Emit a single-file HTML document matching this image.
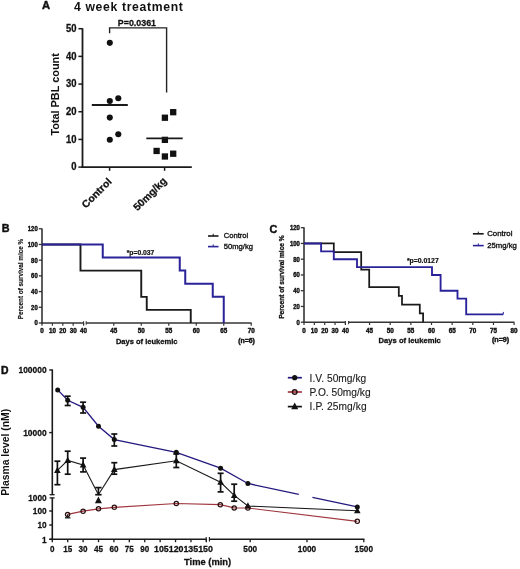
<!DOCTYPE html>
<html><head><meta charset="utf-8"><style>
html,body{margin:0;padding:0;background:#fff;}
svg{display:block;font-family:'Liberation Sans', sans-serif;will-change:transform;}
</style></head><body>
<svg width="520" height="569" viewBox="0 0 520 569">
<rect width="520" height="569" fill="#fff"/>
<text x="42.0" y="9.0" font-size="11.2" font-weight="bold" text-anchor="start" fill="#111" stroke="#111" stroke-width="0.45">A</text>
<text x="74.0" y="11.3" font-size="12.2" font-weight="bold" text-anchor="start" fill="#111" textLength="108.8" lengthAdjust="spacing">4 week treatment</text>
<text x="117.8" y="25.6" font-size="8.8" font-weight="bold" text-anchor="start" fill="#111" textLength="38.2" lengthAdjust="spacingAndGlyphs" stroke="#111" stroke-width="0.26">P=0.0361</text>
<path d="M109.6 33.2 V27.9 H166.6 V92.6" stroke="#222" stroke-width="1.4" fill="none"/>
<line x1="82.5" y1="28.2" x2="82.5" y2="167.9" stroke="#1a1a1a" stroke-width="1.8"/>
<line x1="81.6" y1="167.1" x2="191.8" y2="167.1" stroke="#1a1a1a" stroke-width="1.8"/>
<line x1="78.4" y1="167.1" x2="82.5" y2="167.1" stroke="#1a1a1a" stroke-width="1.5"/>
<text x="76.6" y="170.4" font-size="10.0" font-weight="bold" text-anchor="end" fill="#111" textLength="5.25" lengthAdjust="spacingAndGlyphs" stroke="#111" stroke-width="0.30">0</text>
<line x1="78.4" y1="139.42" x2="82.5" y2="139.42" stroke="#1a1a1a" stroke-width="1.5"/>
<text x="76.6" y="142.72" font-size="10.0" font-weight="bold" text-anchor="end" fill="#111" textLength="10.5" lengthAdjust="spacingAndGlyphs" stroke="#111" stroke-width="0.30">10</text>
<line x1="78.4" y1="111.74" x2="82.5" y2="111.74" stroke="#1a1a1a" stroke-width="1.5"/>
<text x="76.6" y="115.03999999999999" font-size="10.0" font-weight="bold" text-anchor="end" fill="#111" textLength="10.5" lengthAdjust="spacingAndGlyphs" stroke="#111" stroke-width="0.30">20</text>
<line x1="78.4" y1="84.06" x2="82.5" y2="84.06" stroke="#1a1a1a" stroke-width="1.5"/>
<text x="76.6" y="87.36" font-size="10.0" font-weight="bold" text-anchor="end" fill="#111" textLength="10.5" lengthAdjust="spacingAndGlyphs" stroke="#111" stroke-width="0.30">30</text>
<line x1="78.4" y1="56.379999999999995" x2="82.5" y2="56.379999999999995" stroke="#1a1a1a" stroke-width="1.5"/>
<text x="76.6" y="59.67999999999999" font-size="10.0" font-weight="bold" text-anchor="end" fill="#111" textLength="10.5" lengthAdjust="spacingAndGlyphs" stroke="#111" stroke-width="0.30">40</text>
<line x1="78.4" y1="28.700000000000017" x2="82.5" y2="28.700000000000017" stroke="#1a1a1a" stroke-width="1.5"/>
<text x="76.6" y="32.000000000000014" font-size="10.0" font-weight="bold" text-anchor="end" fill="#111" textLength="10.5" lengthAdjust="spacingAndGlyphs" stroke="#111" stroke-width="0.30">50</text>
<line x1="109.6" y1="167" x2="109.6" y2="170.8" stroke="#1a1a1a" stroke-width="1.5"/>
<line x1="164.6" y1="167" x2="164.6" y2="170.8" stroke="#1a1a1a" stroke-width="1.5"/>
<text x="58.8" y="135.6" font-size="10.8" font-weight="bold" text-anchor="start" fill="#111" textLength="82.4" lengthAdjust="spacingAndGlyphs" transform="rotate(-90 58.8 135.6)" stroke="#111" stroke-width="0.05">Total PBL count</text>
<text x="112.3" y="182.2" font-size="10.0" font-weight="bold" text-anchor="end" fill="#111" textLength="37.5" lengthAdjust="spacingAndGlyphs" transform="rotate(-45 112.3 182.2)" stroke="#111" stroke-width="0.30">Control</text>
<text x="167.2" y="181.6" font-size="10.3" font-weight="bold" text-anchor="end" fill="#111" textLength="42" lengthAdjust="spacingAndGlyphs" transform="rotate(-45 167.2 181.6)" stroke="#111" stroke-width="0.30">50mg/kg</text>
<circle cx="109.8" cy="42.84" r="3.05" fill="#111"/>
<circle cx="109.8" cy="100.968" r="3.05" fill="#111"/>
<circle cx="118.3" cy="98.2" r="3.05" fill="#111"/>
<circle cx="109.8" cy="117.576" r="3.05" fill="#111"/>
<circle cx="118.3" cy="134.18400000000003" r="3.05" fill="#111"/>
<circle cx="109.8" cy="139.72" r="3.05" fill="#111"/>
<rect x="161.75" y="114.576" width="6.3" height="6.3" fill="#111"/>
<rect x="170.05" y="109.03999999999999" width="6.3" height="6.3" fill="#111"/>
<rect x="161.75" y="136.71999999999997" width="6.3" height="6.3" fill="#111"/>
<rect x="153.45000000000002" y="147.79199999999997" width="6.3" height="6.3" fill="#111"/>
<rect x="161.75" y="153.32799999999997" width="6.3" height="6.3" fill="#111"/>
<rect x="170.05" y="150.55999999999997" width="6.3" height="6.3" fill="#111"/>
<line x1="91.8" y1="105.02" x2="127.8" y2="105.02" stroke="#1a1a1a" stroke-width="1.8"/>
<line x1="146.3" y1="138.3592" x2="182.7" y2="138.3592" stroke="#1a1a1a" stroke-width="1.8"/>
<text x="1.8" y="232.2" font-size="10.8" font-weight="bold" text-anchor="start" fill="#111" stroke="#111" stroke-width="0.45">B</text>
<line x1="42" y1="228.4" x2="42" y2="323.8" stroke="#353535" stroke-width="1.6"/>
<line x1="41.2" y1="323" x2="83.6" y2="323" stroke="#353535" stroke-width="1.6"/>
<line x1="86.2" y1="323" x2="251.6" y2="323" stroke="#353535" stroke-width="1.6"/>
<line x1="83.6" y1="321.2" x2="83.6" y2="324.8" stroke="#353535" stroke-width="1.1"/>
<line x1="86.2" y1="321.2" x2="86.2" y2="324.8" stroke="#353535" stroke-width="1.1"/>
<line x1="38.8" y1="323.0" x2="42" y2="323.0" stroke="#353535" stroke-width="1.3"/>
<text x="37.7" y="325.4" font-size="6.6" font-weight="bold" text-anchor="end" fill="#111" textLength="3.3" lengthAdjust="spacingAndGlyphs" stroke="#111" stroke-width="0.40">0</text>
<line x1="38.8" y1="307.292" x2="42" y2="307.292" stroke="#353535" stroke-width="1.3"/>
<text x="37.7" y="309.69199999999995" font-size="6.6" font-weight="bold" text-anchor="end" fill="#111" textLength="6.6" lengthAdjust="spacingAndGlyphs" stroke="#111" stroke-width="0.40">20</text>
<line x1="38.8" y1="291.584" x2="42" y2="291.584" stroke="#353535" stroke-width="1.3"/>
<text x="37.7" y="293.984" font-size="6.6" font-weight="bold" text-anchor="end" fill="#111" textLength="6.6" lengthAdjust="spacingAndGlyphs" stroke="#111" stroke-width="0.40">40</text>
<line x1="38.8" y1="275.876" x2="42" y2="275.876" stroke="#353535" stroke-width="1.3"/>
<text x="37.7" y="278.27599999999995" font-size="6.6" font-weight="bold" text-anchor="end" fill="#111" textLength="6.6" lengthAdjust="spacingAndGlyphs" stroke="#111" stroke-width="0.40">60</text>
<line x1="38.8" y1="260.168" x2="42" y2="260.168" stroke="#353535" stroke-width="1.3"/>
<text x="37.7" y="262.568" font-size="6.6" font-weight="bold" text-anchor="end" fill="#111" textLength="6.6" lengthAdjust="spacingAndGlyphs" stroke="#111" stroke-width="0.40">80</text>
<line x1="38.8" y1="244.46" x2="42" y2="244.46" stroke="#353535" stroke-width="1.3"/>
<text x="37.7" y="246.86" font-size="6.6" font-weight="bold" text-anchor="end" fill="#111" textLength="9.899999999999999" lengthAdjust="spacingAndGlyphs" stroke="#111" stroke-width="0.40">100</text>
<line x1="38.8" y1="228.752" x2="42" y2="228.752" stroke="#353535" stroke-width="1.3"/>
<text x="37.7" y="231.15200000000002" font-size="6.6" font-weight="bold" text-anchor="end" fill="#111" textLength="9.899999999999999" lengthAdjust="spacingAndGlyphs" stroke="#111" stroke-width="0.40">120</text>
<line x1="42.0" y1="323" x2="42.0" y2="325.8" stroke="#353535" stroke-width="1.2"/>
<text x="42.0" y="333.2" font-size="6.6" font-weight="bold" text-anchor="middle" fill="#111" textLength="3.5" lengthAdjust="spacingAndGlyphs" stroke="#111" stroke-width="0.40">0</text>
<line x1="52.4" y1="323" x2="52.4" y2="325.8" stroke="#353535" stroke-width="1.2"/>
<text x="52.4" y="333.2" font-size="6.6" font-weight="bold" text-anchor="middle" fill="#111" textLength="7.0" lengthAdjust="spacingAndGlyphs" stroke="#111" stroke-width="0.40">10</text>
<line x1="62.8" y1="323" x2="62.8" y2="325.8" stroke="#353535" stroke-width="1.2"/>
<text x="62.8" y="333.2" font-size="6.6" font-weight="bold" text-anchor="middle" fill="#111" textLength="7.0" lengthAdjust="spacingAndGlyphs" stroke="#111" stroke-width="0.40">20</text>
<line x1="73.2" y1="323" x2="73.2" y2="325.8" stroke="#353535" stroke-width="1.2"/>
<text x="73.2" y="333.2" font-size="6.6" font-weight="bold" text-anchor="middle" fill="#111" textLength="7.0" lengthAdjust="spacingAndGlyphs" stroke="#111" stroke-width="0.40">30</text>
<line x1="83.6" y1="323" x2="83.6" y2="325.8" stroke="#353535" stroke-width="1.2"/>
<text x="83.6" y="333.2" font-size="6.6" font-weight="bold" text-anchor="middle" fill="#111" textLength="7.0" lengthAdjust="spacingAndGlyphs" stroke="#111" stroke-width="0.40">40</text>
<line x1="113.75" y1="323" x2="113.75" y2="325.8" stroke="#353535" stroke-width="1.2"/>
<text x="113.75" y="333.2" font-size="6.6" font-weight="bold" text-anchor="middle" fill="#111" textLength="7.0" lengthAdjust="spacingAndGlyphs" stroke="#111" stroke-width="0.40">45</text>
<line x1="141.25" y1="323" x2="141.25" y2="325.8" stroke="#353535" stroke-width="1.2"/>
<text x="141.25" y="333.2" font-size="6.6" font-weight="bold" text-anchor="middle" fill="#111" textLength="7.0" lengthAdjust="spacingAndGlyphs" stroke="#111" stroke-width="0.40">50</text>
<line x1="168.75" y1="323" x2="168.75" y2="325.8" stroke="#353535" stroke-width="1.2"/>
<text x="168.75" y="333.2" font-size="6.6" font-weight="bold" text-anchor="middle" fill="#111" textLength="7.0" lengthAdjust="spacingAndGlyphs" stroke="#111" stroke-width="0.40">55</text>
<line x1="196.25" y1="323" x2="196.25" y2="325.8" stroke="#353535" stroke-width="1.2"/>
<text x="196.25" y="333.2" font-size="6.6" font-weight="bold" text-anchor="middle" fill="#111" textLength="7.0" lengthAdjust="spacingAndGlyphs" stroke="#111" stroke-width="0.40">60</text>
<line x1="223.75" y1="323" x2="223.75" y2="325.8" stroke="#353535" stroke-width="1.2"/>
<text x="223.75" y="333.2" font-size="6.6" font-weight="bold" text-anchor="middle" fill="#111" textLength="7.0" lengthAdjust="spacingAndGlyphs" stroke="#111" stroke-width="0.40">65</text>
<line x1="251.25" y1="323" x2="251.25" y2="325.8" stroke="#353535" stroke-width="1.2"/>
<text x="251.25" y="333.2" font-size="6.6" font-weight="bold" text-anchor="middle" fill="#111" textLength="7.0" lengthAdjust="spacingAndGlyphs" stroke="#111" stroke-width="0.40">70</text>
<text x="115.9" y="343.8" font-size="8.0" font-weight="bold" text-anchor="start" fill="#111" textLength="61.6" lengthAdjust="spacingAndGlyphs" stroke="#111" stroke-width="0.30">Days of leukemic</text>
<text x="238.2" y="342.6" font-size="6.6" font-weight="bold" text-anchor="start" fill="#111" textLength="16.6" lengthAdjust="spacingAndGlyphs" stroke="#111" stroke-width="0.40">(n=6)</text>
<text x="22.8" y="319.3" font-size="6.4" font-weight="bold" text-anchor="start" fill="#111" textLength="80.5" lengthAdjust="spacingAndGlyphs" transform="rotate(-90 22.8 319.3)" stroke="#111" stroke-width="0.15">Percent of survival mice %</text>
<text x="126.7" y="255.0" font-size="6.3" font-weight="bold" text-anchor="start" fill="#111" textLength="27.6" lengthAdjust="spacingAndGlyphs" stroke="#111" stroke-width="0.20">*p=0.037</text>
<path d="M42.0 244.46 H80.48 V270.61 H141.25 V296.85 H146.75 V309.88 H190.75 V323.00" stroke="#1a1a1a" stroke-width="1.9" fill="none"/>
<path d="M42.0 244.46 H102.75 V257.58 H179.75 V270.61 H185.25 V283.73 H212.75 V296.85 H223.75 V323.00" stroke="#2a2298" stroke-width="2.0" fill="none"/>
<line x1="208" y1="236" x2="218.5" y2="236" stroke="#1a1a1a" stroke-width="1.6"/>
<line x1="213.2" y1="233.8" x2="213.2" y2="236" stroke="#1a1a1a" stroke-width="1.0"/>
<text x="223.8" y="238.4" font-size="7.7" font-weight="normal" text-anchor="start" fill="#111" textLength="24.5" lengthAdjust="spacingAndGlyphs" stroke="#111" stroke-width="0.35">Control</text>
<line x1="208" y1="246.6" x2="218.5" y2="246.6" stroke="#2a2298" stroke-width="1.6"/>
<line x1="213.2" y1="244.4" x2="213.2" y2="246.6" stroke="#2a2298" stroke-width="1.0"/>
<text x="223.8" y="248.8" font-size="7.7" font-weight="normal" text-anchor="start" fill="#111" textLength="29.2" lengthAdjust="spacingAndGlyphs" stroke="#111" stroke-width="0.35">50mg/kg</text>
<text x="269.4" y="232.6" font-size="10.8" font-weight="bold" text-anchor="start" fill="#111" stroke="#111" stroke-width="0.45">C</text>
<line x1="304" y1="227.3" x2="304" y2="323" stroke="#353535" stroke-width="1.6"/>
<line x1="303.2" y1="322.2" x2="345.4" y2="322.2" stroke="#353535" stroke-width="1.6"/>
<line x1="348.6" y1="322.2" x2="514.3" y2="322.2" stroke="#353535" stroke-width="1.6"/>
<line x1="345.4" y1="321.0" x2="345.4" y2="324.2" stroke="#353535" stroke-width="1.1"/>
<line x1="348.6" y1="321.0" x2="348.6" y2="324.2" stroke="#353535" stroke-width="1.1"/>
<line x1="300.8" y1="322.2" x2="304" y2="322.2" stroke="#353535" stroke-width="1.3"/>
<text x="299.8" y="324.59999999999997" font-size="6.6" font-weight="bold" text-anchor="end" fill="#111" textLength="3.3" lengthAdjust="spacingAndGlyphs" stroke="#111" stroke-width="0.40">0</text>
<line x1="300.8" y1="306.45" x2="304" y2="306.45" stroke="#353535" stroke-width="1.3"/>
<text x="299.8" y="308.84999999999997" font-size="6.6" font-weight="bold" text-anchor="end" fill="#111" textLength="6.6" lengthAdjust="spacingAndGlyphs" stroke="#111" stroke-width="0.40">20</text>
<line x1="300.8" y1="290.7" x2="304" y2="290.7" stroke="#353535" stroke-width="1.3"/>
<text x="299.8" y="293.09999999999997" font-size="6.6" font-weight="bold" text-anchor="end" fill="#111" textLength="6.6" lengthAdjust="spacingAndGlyphs" stroke="#111" stroke-width="0.40">40</text>
<line x1="300.8" y1="274.95" x2="304" y2="274.95" stroke="#353535" stroke-width="1.3"/>
<text x="299.8" y="277.34999999999997" font-size="6.6" font-weight="bold" text-anchor="end" fill="#111" textLength="6.6" lengthAdjust="spacingAndGlyphs" stroke="#111" stroke-width="0.40">60</text>
<line x1="300.8" y1="259.2" x2="304" y2="259.2" stroke="#353535" stroke-width="1.3"/>
<text x="299.8" y="261.59999999999997" font-size="6.6" font-weight="bold" text-anchor="end" fill="#111" textLength="6.6" lengthAdjust="spacingAndGlyphs" stroke="#111" stroke-width="0.40">80</text>
<line x1="300.8" y1="243.45" x2="304" y2="243.45" stroke="#353535" stroke-width="1.3"/>
<text x="299.8" y="245.85" font-size="6.6" font-weight="bold" text-anchor="end" fill="#111" textLength="9.899999999999999" lengthAdjust="spacingAndGlyphs" stroke="#111" stroke-width="0.40">100</text>
<line x1="300.8" y1="227.7" x2="304" y2="227.7" stroke="#353535" stroke-width="1.3"/>
<text x="299.8" y="230.1" font-size="6.6" font-weight="bold" text-anchor="end" fill="#111" textLength="9.899999999999999" lengthAdjust="spacingAndGlyphs" stroke="#111" stroke-width="0.40">120</text>
<line x1="304.0" y1="322.2" x2="304.0" y2="325" stroke="#353535" stroke-width="1.2"/>
<text x="304.0" y="332.7" font-size="6.6" font-weight="bold" text-anchor="middle" fill="#111" textLength="3.5" lengthAdjust="spacingAndGlyphs" stroke="#111" stroke-width="0.40">0</text>
<line x1="314.35" y1="322.2" x2="314.35" y2="325" stroke="#353535" stroke-width="1.2"/>
<text x="314.35" y="332.7" font-size="6.6" font-weight="bold" text-anchor="middle" fill="#111" textLength="7.0" lengthAdjust="spacingAndGlyphs" stroke="#111" stroke-width="0.40">10</text>
<line x1="324.7" y1="322.2" x2="324.7" y2="325" stroke="#353535" stroke-width="1.2"/>
<text x="324.7" y="332.7" font-size="6.6" font-weight="bold" text-anchor="middle" fill="#111" textLength="7.0" lengthAdjust="spacingAndGlyphs" stroke="#111" stroke-width="0.40">20</text>
<line x1="335.05" y1="322.2" x2="335.05" y2="325" stroke="#353535" stroke-width="1.2"/>
<text x="335.05" y="332.7" font-size="6.6" font-weight="bold" text-anchor="middle" fill="#111" textLength="7.0" lengthAdjust="spacingAndGlyphs" stroke="#111" stroke-width="0.40">30</text>
<line x1="345.4" y1="322.2" x2="345.4" y2="325" stroke="#353535" stroke-width="1.2"/>
<text x="345.4" y="332.7" font-size="6.6" font-weight="bold" text-anchor="middle" fill="#111" textLength="7.0" lengthAdjust="spacingAndGlyphs" stroke="#111" stroke-width="0.40">40</text>
<line x1="369.55" y1="322.2" x2="369.55" y2="325" stroke="#353535" stroke-width="1.2"/>
<text x="369.55" y="332.7" font-size="6.6" font-weight="bold" text-anchor="middle" fill="#111" textLength="7.0" lengthAdjust="spacingAndGlyphs" stroke="#111" stroke-width="0.40">45</text>
<line x1="390.2" y1="322.2" x2="390.2" y2="325" stroke="#353535" stroke-width="1.2"/>
<text x="390.2" y="332.7" font-size="6.6" font-weight="bold" text-anchor="middle" fill="#111" textLength="7.0" lengthAdjust="spacingAndGlyphs" stroke="#111" stroke-width="0.40">50</text>
<line x1="410.84999999999997" y1="322.2" x2="410.84999999999997" y2="325" stroke="#353535" stroke-width="1.2"/>
<text x="410.84999999999997" y="332.7" font-size="6.6" font-weight="bold" text-anchor="middle" fill="#111" textLength="7.0" lengthAdjust="spacingAndGlyphs" stroke="#111" stroke-width="0.40">55</text>
<line x1="431.5" y1="322.2" x2="431.5" y2="325" stroke="#353535" stroke-width="1.2"/>
<text x="431.5" y="332.7" font-size="6.6" font-weight="bold" text-anchor="middle" fill="#111" textLength="7.0" lengthAdjust="spacingAndGlyphs" stroke="#111" stroke-width="0.40">60</text>
<line x1="452.15" y1="322.2" x2="452.15" y2="325" stroke="#353535" stroke-width="1.2"/>
<text x="452.15" y="332.7" font-size="6.6" font-weight="bold" text-anchor="middle" fill="#111" textLength="7.0" lengthAdjust="spacingAndGlyphs" stroke="#111" stroke-width="0.40">65</text>
<line x1="472.79999999999995" y1="322.2" x2="472.79999999999995" y2="325" stroke="#353535" stroke-width="1.2"/>
<text x="472.79999999999995" y="332.7" font-size="6.6" font-weight="bold" text-anchor="middle" fill="#111" textLength="7.0" lengthAdjust="spacingAndGlyphs" stroke="#111" stroke-width="0.40">70</text>
<line x1="493.45" y1="322.2" x2="493.45" y2="325" stroke="#353535" stroke-width="1.2"/>
<text x="493.45" y="332.7" font-size="6.6" font-weight="bold" text-anchor="middle" fill="#111" textLength="7.0" lengthAdjust="spacingAndGlyphs" stroke="#111" stroke-width="0.40">75</text>
<line x1="514.1" y1="322.2" x2="514.1" y2="325" stroke="#353535" stroke-width="1.2"/>
<text x="514.1" y="332.7" font-size="6.6" font-weight="bold" text-anchor="middle" fill="#111" textLength="7.0" lengthAdjust="spacingAndGlyphs" stroke="#111" stroke-width="0.40">80</text>
<text x="378.6" y="343.3" font-size="8.0" font-weight="bold" text-anchor="start" fill="#111" textLength="62.2" lengthAdjust="spacingAndGlyphs" stroke="#111" stroke-width="0.30">Days of leukemic</text>
<text x="492.0" y="341.8" font-size="6.6" font-weight="bold" text-anchor="start" fill="#111" textLength="17.2" lengthAdjust="spacingAndGlyphs" stroke="#111" stroke-width="0.40">(n=9)</text>
<text x="284.0" y="318.8" font-size="6.5" font-weight="bold" text-anchor="start" fill="#111" textLength="83.5" lengthAdjust="spacingAndGlyphs" transform="rotate(-90 284.0 318.8)" stroke="#111" stroke-width="0.30">Percent of survival mice %</text>
<text x="406.9" y="262.8" font-size="6.3" font-weight="bold" text-anchor="start" fill="#111" textLength="31.8" lengthAdjust="spacingAndGlyphs" stroke="#111" stroke-width="0.20">*p=0.0127</text>
<path d="M304 243.45 H333.80 V252.19 H361.20 V269.67 H369.20 V287.24 H398.80 V295.98 H402.00 V304.72 H419.80 V313.46 H423.10 V322.20" stroke="#1a1a1a" stroke-width="1.75" fill="none"/>
<path d="M304 243.45 H321.10 V251.32 H333.80 V259.20 H357.00 V267.07 H432.00 V274.95 H440.60 V290.70 H457.50 V298.57 H466.20 V314.32 H503.3" stroke="#2a2298" stroke-width="1.85" fill="none"/>
<line x1="503.3" y1="311.925" x2="503.3" y2="314.325" stroke="#2a2298" stroke-width="1.0"/>
<line x1="472.9" y1="233.8" x2="483.7" y2="233.8" stroke="#1a1a1a" stroke-width="1.6"/>
<line x1="478.3" y1="231.6" x2="478.3" y2="233.8" stroke="#1a1a1a" stroke-width="1.0"/>
<text x="487.2" y="236.3" font-size="7.7" font-weight="normal" text-anchor="start" fill="#111" textLength="25.3" lengthAdjust="spacingAndGlyphs" stroke="#111" stroke-width="0.35">Control</text>
<line x1="472.9" y1="245.6" x2="483.7" y2="245.6" stroke="#2a2298" stroke-width="1.6"/>
<line x1="478.3" y1="243.4" x2="478.3" y2="245.6" stroke="#2a2298" stroke-width="1.0"/>
<text x="487.2" y="248.1" font-size="7.7" font-weight="normal" text-anchor="start" fill="#111" textLength="29.6" lengthAdjust="spacingAndGlyphs" stroke="#111" stroke-width="0.35">25mg/kg</text>
<text x="1.0" y="373.9" font-size="10.4" font-weight="bold" text-anchor="start" fill="#111" stroke="#111" stroke-width="0.45">D</text>
<line x1="52.3" y1="369.4" x2="52.3" y2="494.7" stroke="#1a1a1a" stroke-width="1.6"/>
<line x1="52.3" y1="497.9" x2="52.3" y2="540.2" stroke="#1a1a1a" stroke-width="1.6"/>
<line x1="49.6" y1="494.7" x2="54.6" y2="494.7" stroke="#1a1a1a" stroke-width="1.3"/>
<line x1="49.6" y1="497.9" x2="54.6" y2="497.9" stroke="#1a1a1a" stroke-width="1.3"/>
<line x1="49.6" y1="539.3" x2="206.2" y2="539.3" stroke="#1a1a1a" stroke-width="1.6"/>
<line x1="209.4" y1="539.3" x2="364.4" y2="539.3" stroke="#1a1a1a" stroke-width="1.6"/>
<line x1="206.2" y1="537" x2="206.2" y2="541.6" stroke="#1a1a1a" stroke-width="1.1"/>
<line x1="209.4" y1="537" x2="209.4" y2="541.6" stroke="#1a1a1a" stroke-width="1.1"/>
<line x1="49.2" y1="370" x2="52.3" y2="370" stroke="#1a1a1a" stroke-width="1.4"/>
<text x="46.6" y="373.2" font-size="9.0" font-weight="bold" text-anchor="end" fill="#111" textLength="28.08" lengthAdjust="spacingAndGlyphs" stroke="#111" stroke-width="0.27">100000</text>
<line x1="49.2" y1="432.6" x2="52.3" y2="432.6" stroke="#1a1a1a" stroke-width="1.4"/>
<text x="46.6" y="435.8" font-size="9.0" font-weight="bold" text-anchor="end" fill="#111" textLength="23.4" lengthAdjust="spacingAndGlyphs" stroke="#111" stroke-width="0.27">10000</text>
<text x="46.6" y="501.09999999999997" font-size="9.0" font-weight="bold" text-anchor="end" fill="#111" textLength="18.4" lengthAdjust="spacingAndGlyphs" stroke="#111" stroke-width="0.27">1000</text>
<line x1="49.2" y1="511.0" x2="52.3" y2="511.0" stroke="#1a1a1a" stroke-width="1.4"/>
<text x="46.6" y="514.2" font-size="9.0" font-weight="bold" text-anchor="end" fill="#111" textLength="13.799999999999999" lengthAdjust="spacingAndGlyphs" stroke="#111" stroke-width="0.27">100</text>
<line x1="49.2" y1="525.0" x2="52.3" y2="525.0" stroke="#1a1a1a" stroke-width="1.4"/>
<text x="46.6" y="528.2" font-size="9.0" font-weight="bold" text-anchor="end" fill="#111" textLength="9.2" lengthAdjust="spacingAndGlyphs" stroke="#111" stroke-width="0.27">10</text>
<line x1="49.2" y1="539.3" x2="52.3" y2="539.3" stroke="#1a1a1a" stroke-width="1.4"/>
<text x="46.6" y="542.5" font-size="9.0" font-weight="bold" text-anchor="end" fill="#111" textLength="4.6" lengthAdjust="spacingAndGlyphs" stroke="#111" stroke-width="0.27">1</text>
<line x1="52.3" y1="539.3" x2="52.3" y2="542.2" stroke="#1a1a1a" stroke-width="1.3"/>
<line x1="67.705" y1="539.3" x2="67.705" y2="542.2" stroke="#1a1a1a" stroke-width="1.3"/>
<line x1="83.11" y1="539.3" x2="83.11" y2="542.2" stroke="#1a1a1a" stroke-width="1.3"/>
<line x1="98.51499999999999" y1="539.3" x2="98.51499999999999" y2="542.2" stroke="#1a1a1a" stroke-width="1.3"/>
<line x1="113.91999999999999" y1="539.3" x2="113.91999999999999" y2="542.2" stroke="#1a1a1a" stroke-width="1.3"/>
<line x1="129.325" y1="539.3" x2="129.325" y2="542.2" stroke="#1a1a1a" stroke-width="1.3"/>
<line x1="144.73" y1="539.3" x2="144.73" y2="542.2" stroke="#1a1a1a" stroke-width="1.3"/>
<line x1="160.135" y1="539.3" x2="160.135" y2="542.2" stroke="#1a1a1a" stroke-width="1.3"/>
<line x1="175.54" y1="539.3" x2="175.54" y2="542.2" stroke="#1a1a1a" stroke-width="1.3"/>
<line x1="190.945" y1="539.3" x2="190.945" y2="542.2" stroke="#1a1a1a" stroke-width="1.3"/>
<line x1="206.34999999999997" y1="539.3" x2="206.34999999999997" y2="542.2" stroke="#1a1a1a" stroke-width="1.3"/>
<text x="52.3" y="552.2" font-size="8.5" font-weight="bold" text-anchor="middle" fill="#111" textLength="4.5" lengthAdjust="spacingAndGlyphs" stroke="#111" stroke-width="0.26">0</text>
<text x="67.705" y="552.2" font-size="8.5" font-weight="bold" text-anchor="middle" fill="#111" textLength="9.0" lengthAdjust="spacingAndGlyphs" stroke="#111" stroke-width="0.26">15</text>
<text x="83.11" y="552.2" font-size="8.5" font-weight="bold" text-anchor="middle" fill="#111" textLength="9.0" lengthAdjust="spacingAndGlyphs" stroke="#111" stroke-width="0.26">30</text>
<text x="98.51499999999999" y="552.2" font-size="8.5" font-weight="bold" text-anchor="middle" fill="#111" textLength="9.0" lengthAdjust="spacingAndGlyphs" stroke="#111" stroke-width="0.26">45</text>
<text x="113.91999999999999" y="552.2" font-size="8.5" font-weight="bold" text-anchor="middle" fill="#111" textLength="9.0" lengthAdjust="spacingAndGlyphs" stroke="#111" stroke-width="0.26">60</text>
<text x="129.325" y="552.2" font-size="8.5" font-weight="bold" text-anchor="middle" fill="#111" textLength="9.0" lengthAdjust="spacingAndGlyphs" stroke="#111" stroke-width="0.26">75</text>
<text x="144.73" y="552.2" font-size="8.5" font-weight="bold" text-anchor="middle" fill="#111" textLength="9.0" lengthAdjust="spacingAndGlyphs" stroke="#111" stroke-width="0.26">90</text>
<text x="154.0" y="552.2" font-size="8.5" font-weight="bold" text-anchor="start" fill="#111" textLength="58.9" lengthAdjust="spacingAndGlyphs" stroke="#111" stroke-width="0.26">105120135150</text>
<line x1="250.2" y1="539.3" x2="250.2" y2="542.2" stroke="#1a1a1a" stroke-width="1.3"/>
<text x="250.2" y="552.2" font-size="8.5" font-weight="bold" text-anchor="middle" fill="#111" textLength="13.799999999999999" lengthAdjust="spacingAndGlyphs" stroke="#111" stroke-width="0.26">500</text>
<line x1="307.0" y1="539.3" x2="307.0" y2="542.2" stroke="#1a1a1a" stroke-width="1.3"/>
<text x="307.0" y="552.2" font-size="8.5" font-weight="bold" text-anchor="middle" fill="#111" textLength="18.4" lengthAdjust="spacingAndGlyphs" stroke="#111" stroke-width="0.26">1000</text>
<line x1="363.8" y1="539.3" x2="363.8" y2="542.2" stroke="#1a1a1a" stroke-width="1.3"/>
<text x="363.8" y="552.2" font-size="8.5" font-weight="bold" text-anchor="middle" fill="#111" textLength="18.4" lengthAdjust="spacingAndGlyphs" stroke="#111" stroke-width="0.26">1500</text>
<text x="184" y="565.3" font-size="8.7" font-weight="bold" text-anchor="start" fill="#111" textLength="47.2" lengthAdjust="spacingAndGlyphs" stroke="#111" stroke-width="0.26">Time (min)</text>
<text x="9.2" y="495.8" font-size="10.2" font-weight="bold" text-anchor="start" fill="#111" textLength="87" lengthAdjust="spacingAndGlyphs" transform="rotate(-90 9.2 495.8)">Plasma level (nM)</text>
<path d="M67.6 514.4 L83.1 511.2 L98.5 508.8 L114.3 507.3 L176.3 503.5 L220.3 504.7 L234.2 507.9 L247.9 508 L357.3 521.3" stroke="#a0363f" stroke-width="1.2" fill="none"/>
<path d="M57.4 470.4 L67.7 460.4 L83.1 465 L98.4 494.7 L114.3 469.6 L176.3 460.8 L220.6 482.3 L234.2 495.4 L247.9 506 L357.3 510.8" stroke="#1a1a1a" stroke-width="1.1" fill="none"/>
<path d="M57.7 389.9 L67.7 400.3 L83.1 407.3 L98.5 426.2 L114.3 439.6 L176.3 452.3 L220.6 468.2 L247.9 483.5 L298.8 494.4" stroke="#24197f" stroke-width="1.3" fill="none"/>
<path d="M312.4 497.3 L357.3 506.9" stroke="#24197f" stroke-width="1.3" fill="none"/>
<line x1="57.4" y1="461.2" x2="57.4" y2="484.7" stroke="#111" stroke-width="1.7"/>
<line x1="54.4" y1="461.2" x2="60.4" y2="461.2" stroke="#111" stroke-width="1.7"/>
<line x1="54.4" y1="484.7" x2="60.4" y2="484.7" stroke="#111" stroke-width="1.7"/>
<line x1="67.7" y1="451.2" x2="67.7" y2="474.2" stroke="#111" stroke-width="1.7"/>
<line x1="64.7" y1="451.2" x2="70.7" y2="451.2" stroke="#111" stroke-width="1.7"/>
<line x1="64.7" y1="474.2" x2="70.7" y2="474.2" stroke="#111" stroke-width="1.7"/>
<line x1="83.1" y1="458.1" x2="83.1" y2="471.9" stroke="#111" stroke-width="1.7"/>
<line x1="80.1" y1="458.1" x2="86.1" y2="458.1" stroke="#111" stroke-width="1.7"/>
<line x1="80.1" y1="471.9" x2="86.1" y2="471.9" stroke="#111" stroke-width="1.7"/>
<line x1="114.3" y1="462.7" x2="114.3" y2="474.2" stroke="#111" stroke-width="1.7"/>
<line x1="111.3" y1="462.7" x2="117.3" y2="462.7" stroke="#111" stroke-width="1.7"/>
<line x1="111.3" y1="474.2" x2="117.3" y2="474.2" stroke="#111" stroke-width="1.7"/>
<line x1="176.3" y1="454" x2="176.3" y2="467.5" stroke="#111" stroke-width="1.7"/>
<line x1="173.3" y1="454" x2="179.3" y2="454" stroke="#111" stroke-width="1.7"/>
<line x1="173.3" y1="467.5" x2="179.3" y2="467.5" stroke="#111" stroke-width="1.7"/>
<line x1="220.6" y1="473.3" x2="220.6" y2="491.9" stroke="#111" stroke-width="1.7"/>
<line x1="217.6" y1="473.3" x2="223.6" y2="473.3" stroke="#111" stroke-width="1.7"/>
<line x1="217.6" y1="491.9" x2="223.6" y2="491.9" stroke="#111" stroke-width="1.7"/>
<line x1="234.2" y1="484.2" x2="234.2" y2="501.2" stroke="#111" stroke-width="1.7"/>
<line x1="231.2" y1="484.2" x2="237.2" y2="484.2" stroke="#111" stroke-width="1.7"/>
<line x1="231.2" y1="501.2" x2="237.2" y2="501.2" stroke="#111" stroke-width="1.7"/>
<line x1="98.4" y1="487.6" x2="98.4" y2="494.7" stroke="#111" stroke-width="1.7"/>
<line x1="95.2" y1="487.6" x2="101.60000000000001" y2="487.6" stroke="#111" stroke-width="1.7"/>
<line x1="95.2" y1="494.7" x2="101.60000000000001" y2="494.7" stroke="#111" stroke-width="1.7"/>
<line x1="67.7" y1="396.2" x2="67.7" y2="405.5" stroke="#111" stroke-width="1.7"/>
<line x1="64.7" y1="396.2" x2="70.7" y2="396.2" stroke="#111" stroke-width="1.7"/>
<line x1="64.7" y1="405.5" x2="70.7" y2="405.5" stroke="#111" stroke-width="1.7"/>
<line x1="83.1" y1="402.2" x2="83.1" y2="413" stroke="#111" stroke-width="1.7"/>
<line x1="80.1" y1="402.2" x2="86.1" y2="402.2" stroke="#111" stroke-width="1.7"/>
<line x1="80.1" y1="413" x2="86.1" y2="413" stroke="#111" stroke-width="1.7"/>
<line x1="114.3" y1="434" x2="114.3" y2="446" stroke="#111" stroke-width="1.7"/>
<line x1="111.3" y1="434" x2="117.3" y2="434" stroke="#111" stroke-width="1.7"/>
<line x1="111.3" y1="446" x2="117.3" y2="446" stroke="#111" stroke-width="1.7"/>
<line x1="67.6" y1="514.4" x2="67.6" y2="517.8" stroke="#111" stroke-width="1.3"/>
<line x1="65" y1="517.8" x2="70.4" y2="517.8" stroke="#111" stroke-width="1.3"/>
<path d="M57.4 466.638 L60.699999999999996 472.90799999999996 L54.1 472.90799999999996 Z" fill="#111"/>
<path d="M67.7 456.638 L71.0 462.90799999999996 L64.4 462.90799999999996 Z" fill="#111"/>
<path d="M83.1 461.238 L86.39999999999999 467.508 L79.8 467.508 Z" fill="#111"/>
<path d="M114.3 465.838 L117.6 472.108 L111.0 472.108 Z" fill="#111"/>
<path d="M176.3 457.038 L179.60000000000002 463.308 L173.0 463.308 Z" fill="#111"/>
<path d="M220.6 478.538 L223.9 484.808 L217.29999999999998 484.808 Z" fill="#111"/>
<path d="M234.2 491.638 L237.5 497.90799999999996 L230.89999999999998 497.90799999999996 Z" fill="#111"/>
<path d="M247.9 502.238 L251.20000000000002 508.508 L244.6 508.508 Z" fill="#111"/>
<path d="M357.3 507.038 L360.6 513.308 L354.0 513.308 Z" fill="#111"/>
<path d="M98.4 496.61 L101.9 503.26000000000005 L94.9 503.26000000000005 Z" fill="#111"/>
<circle cx="57.7" cy="389.9" r="2.5" fill="#111"/>
<circle cx="67.7" cy="400.3" r="2.5" fill="#111"/>
<circle cx="83.1" cy="407.3" r="2.5" fill="#111"/>
<circle cx="98.5" cy="426.2" r="2.5" fill="#111"/>
<circle cx="114.3" cy="439.6" r="2.5" fill="#111"/>
<circle cx="176.3" cy="452.3" r="2.5" fill="#111"/>
<circle cx="220.6" cy="468.2" r="2.5" fill="#111"/>
<circle cx="247.9" cy="483.5" r="2.5" fill="#111"/>
<circle cx="357.3" cy="506.9" r="2.5" fill="#111"/>
<circle cx="67.6" cy="514.4" r="2.15" fill="none" stroke="#2a1010" stroke-width="1.25"/>
<circle cx="83.1" cy="511.2" r="2.15" fill="none" stroke="#2a1010" stroke-width="1.25"/>
<circle cx="98.5" cy="508.8" r="2.15" fill="none" stroke="#2a1010" stroke-width="1.25"/>
<circle cx="114.3" cy="507.3" r="2.15" fill="none" stroke="#2a1010" stroke-width="1.25"/>
<circle cx="176.3" cy="503.5" r="2.15" fill="none" stroke="#2a1010" stroke-width="1.25"/>
<circle cx="220.3" cy="504.7" r="2.15" fill="none" stroke="#2a1010" stroke-width="1.25"/>
<circle cx="234.2" cy="507.9" r="2.15" fill="none" stroke="#2a1010" stroke-width="1.25"/>
<circle cx="247.9" cy="508" r="2.15" fill="none" stroke="#2a1010" stroke-width="1.25"/>
<circle cx="357.3" cy="521.3" r="2.15" fill="none" stroke="#2a1010" stroke-width="1.25"/>
<line x1="287.8" y1="377.7" x2="301.9" y2="377.7" stroke="#24197f" stroke-width="1.7"/>
<circle cx="294.7" cy="377.7" r="2.6" fill="#111"/>
<text x="309.6" y="381.9" font-size="10.2" font-weight="normal" text-anchor="start" fill="#1a1a1a" textLength="56.6" lengthAdjust="spacing" stroke="#1a1a1a" stroke-width="0.12">I.V. 50mg/kg</text>
<line x1="287.8" y1="392" x2="301.9" y2="392" stroke="#a0363f" stroke-width="1.7"/>
<circle cx="294.7" cy="392" r="2.3" fill="none" stroke="#2a1010" stroke-width="1.4"/>
<text x="309.6" y="395.8" font-size="10.2" font-weight="normal" text-anchor="start" fill="#1a1a1a" textLength="61.0" lengthAdjust="spacing" stroke="#1a1a1a" stroke-width="0.12">P.O. 50mg/kg</text>
<line x1="287.8" y1="406.6" x2="301.9" y2="406.6" stroke="#111" stroke-width="1.7"/>
<path d="M294.7 402.61 L298.2 409.26000000000005 L291.2 409.26000000000005 Z" fill="#111"/>
<text x="309.6" y="409.9" font-size="10.2" font-weight="normal" text-anchor="start" fill="#1a1a1a" textLength="57.0" lengthAdjust="spacing" stroke="#1a1a1a" stroke-width="0.12">I.P. 25mg/kg</text>
</svg>
</body></html>
